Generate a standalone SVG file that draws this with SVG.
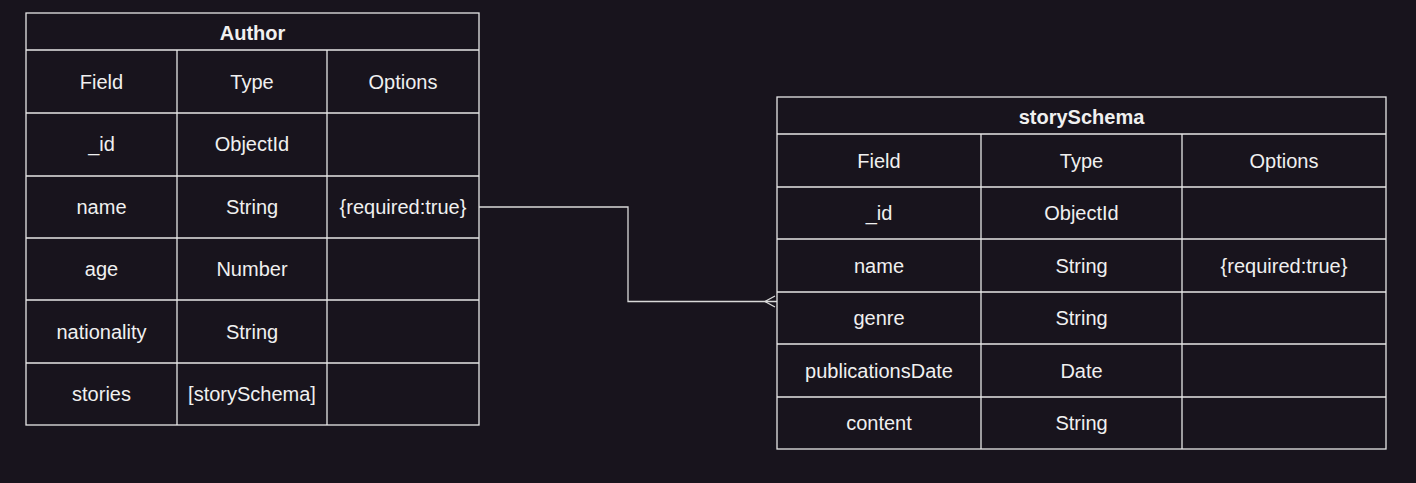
<svg xmlns="http://www.w3.org/2000/svg" width="1416" height="483" viewBox="0 0 1416 483">
<style>
.bg{fill:#18141d}
.cell{fill:#18141d;stroke:#e6e6e6;stroke-width:1.3}
.t{font-family:"Liberation Sans",Arial,sans-serif;font-size:20px;fill:#f0f0f0;text-anchor:middle;dominant-baseline:central}
.b{font-weight:bold}
.conn{fill:none;stroke:#d9d9d9;stroke-width:1.3}
</style>
<rect class="bg" x="0" y="0" width="1416" height="483"/>
<g id="author">
<rect class="cell" x="26" y="13" width="453" height="412"/>
<line class="cell" x1="26" y1="50" x2="479" y2="50"/>
<line class="cell" x1="26" y1="113" x2="479" y2="113"/>
<line class="cell" x1="26" y1="176" x2="479" y2="176"/>
<line class="cell" x1="26" y1="238" x2="479" y2="238"/>
<line class="cell" x1="26" y1="300" x2="479" y2="300"/>
<line class="cell" x1="26" y1="363" x2="479" y2="363"/>
<line class="cell" x1="177" y1="50" x2="177" y2="425"/>
<line class="cell" x1="327" y1="50" x2="327" y2="425"/>
<text class="t b" x="252.5" y="33">Author</text>
<text class="t" x="101.5" y="82">Field</text>
<text class="t" x="252" y="82">Type</text>
<text class="t" x="403" y="82">Options</text>
<text class="t" x="101.5" y="144">_id</text>
<text class="t" x="252" y="144">ObjectId</text>
<text class="t" x="101.5" y="207">name</text>
<text class="t" x="252" y="207">String</text>
<text class="t" x="403" y="207">{required:true}</text>
<text class="t" x="101.5" y="269">age</text>
<text class="t" x="252" y="269">Number</text>
<text class="t" x="101.5" y="332">nationality</text>
<text class="t" x="252" y="332">String</text>
<text class="t" x="101.5" y="394">stories</text>
<text class="t" x="252" y="394">[storySchema]</text>
</g>
<g id="storySchema">
<rect class="cell" x="777" y="97" width="609" height="352"/>
<line class="cell" x1="777" y1="134" x2="1386" y2="134"/>
<line class="cell" x1="777" y1="187" x2="1386" y2="187"/>
<line class="cell" x1="777" y1="239" x2="1386" y2="239"/>
<line class="cell" x1="777" y1="292" x2="1386" y2="292"/>
<line class="cell" x1="777" y1="344" x2="1386" y2="344"/>
<line class="cell" x1="777" y1="397" x2="1386" y2="397"/>
<line class="cell" x1="981" y1="134" x2="981" y2="449"/>
<line class="cell" x1="1182" y1="134" x2="1182" y2="449"/>
<text class="t b" x="1081.5" y="117">storySchema</text>
<text class="t" x="879" y="161">Field</text>
<text class="t" x="1081.5" y="161">Type</text>
<text class="t" x="1284" y="161">Options</text>
<text class="t" x="879" y="213">_id</text>
<text class="t" x="1081.5" y="213">ObjectId</text>
<text class="t" x="879" y="266">name</text>
<text class="t" x="1081.5" y="266">String</text>
<text class="t" x="1284" y="266">{required:true}</text>
<text class="t" x="879" y="318">genre</text>
<text class="t" x="1081.5" y="318">String</text>
<text class="t" x="879" y="371">publicationsDate</text>
<text class="t" x="1081.5" y="371">Date</text>
<text class="t" x="879" y="423">content</text>
<text class="t" x="1081.5" y="423">String</text>
</g>
<g id="connectors">
<path class="conn" d="M479 207 H628 V301.5 H777"/>
<path class="conn" d="M775 296 L765 301.5 L775 307"/>
</g>
</svg>
